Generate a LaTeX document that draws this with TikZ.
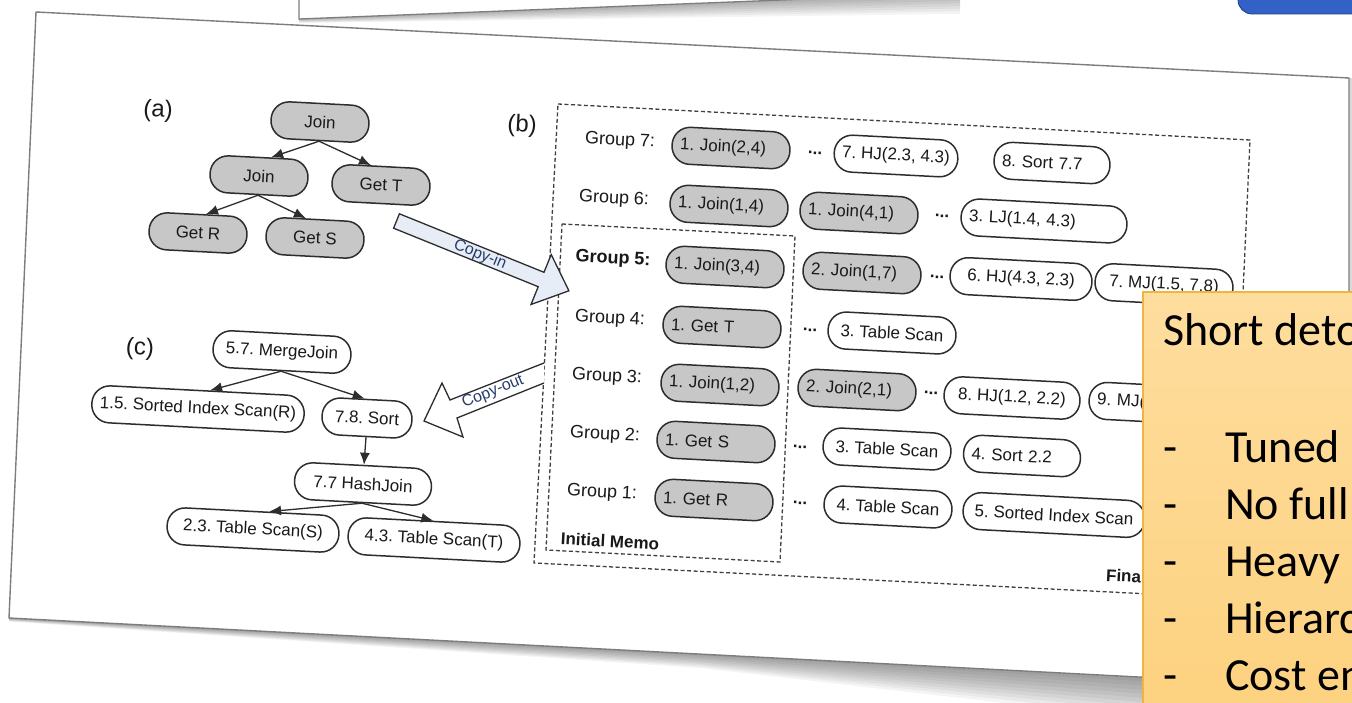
\documentclass[tikz,border=0pt]{standalone}
\usepackage{fontspec}
\setmainfont{Liberation Sans}
\newfontfamily\cbfont{Carlito}
\usetikzlibrary{arrows.meta,calc}
\definecolor{gfill}{RGB}{199,199,199}
\definecolor{nborder}{RGB}{45,45,45}
\definecolor{txt}{RGB}{25,25,25}
\definecolor{arrowfill}{RGB}{230,237,247}
\definecolor{cpytext}{RGB}{40,60,105}
\definecolor{yel1}{RGB}{254,221,158}
\definecolor{yel2}{RGB}{253,210,128}
\definecolor{yelborder}{RGB}{240,180,70}
\definecolor{blue1}{RGB}{50,98,198}
\definecolor{blue2}{RGB}{30,60,130}
\definecolor{paperedge}{RGB}{125,125,125}
\frenchspacing
\begin{document}
\begin{tikzpicture}[x=1pt,y=-1pt,
  pnode/.style={draw=nborder, line width=1.5pt, rounded corners=18pt, minimum height=37pt, inner xsep=8pt, inner ysep=0pt, rotate=-3, font=\fontsize{17}{20}\selectfont, text=txt},
  gnode/.style={pnode, fill=gfill},
  wnode/.style={pnode, fill=white},
  lt/.style={text width=#1, align=left},
  mw/.style={minimum width=#1},
  grp/.style={rotate=-3, font=\fontsize{18}{21}\selectfont, text=txt, inner sep=0pt},
  dotsn/.style={rotate=-3, font=\fontsize{17}{20}\selectfont\bfseries, text=txt, inner sep=0pt},
  lab/.style={rotate=-3, font=\fontsize{24}{28}\selectfont, text=txt, inner sep=0pt},
  tarr/.style={draw=nborder, line width=1.3pt, -{Latex[length=12pt,width=10pt]}},
  memo/.style={draw=black!75, line width=1.3pt, dash pattern=on 4pt off 2.5pt},
  ybul/.style={font=\cbfont\fontsize{46}{55}\selectfont, anchor=base west, inner sep=0pt, text=black},
  cpy/.style={font=\fontsize{16}{19}\selectfont, text=cpytext, inner sep=0pt},
]
\useasboundingbox (0,0) rectangle (1352,703);
\clip (0,0) rectangle (1352,703);
\fill[white] (0,0) rectangle (1352,703);

% previous slide paper at the top
\foreach \k in {1,...,8}{
  \fill[black,opacity=0.045] (299,19) -- (960,-7) -- (960,{-7+2.6*\k}) -- (299,{19+0.5*\k}) -- cycle;
}
\fill[white] (299,-10) -- (299,19) -- (960,-7) -- (960,-10) -- cycle;
\draw[paperedge, line width=1.3pt] (299,-10) -- (299,19) -- (960,-7);

% blue shape top right
\draw[fill=blue1, draw=blue2, line width=0.8pt, rounded corners=14pt] (1238,-30) rectangle (1390,14);

% main paper shadow
\foreach \k in {1,...,10}{
  \fill[black,opacity=0.045] (9,618) -- (1349,688) -- (1352,688) -- (1352,{688+5.5*\k}) -- (700,{654+1.4*\k}) -- (9,{618+0.35*\k}) -- cycle;
}
\fill[black,opacity=0.15] (1349,78) rectangle (1352,700);
% main paper
\fill[white] (36,12) -- (1349,78) -- (1349,688) -- (9,618) -- cycle;
\draw[paperedge, line width=1.4pt] (1349,688) -- (9,618) -- (36,12) -- (1349,78) -- (1349,688);

% memo boxes
\draw[memo] (558,104) -- (1250,140) -- (1229,598) -- (534,563) -- cycle;
\draw[memo] (562,224) -- (795,236) -- (780,562) -- (546,550) -- cycle;

% labels
\node[lab] (la) at (158,111) {(a)};
\node[lab] (lb) at (522,126) {(b)};
\node[lab] (lc) at (140,349) {(c)};

% tree (a)
\node[gnode, mw=98pt] (ja) at (320,122) {Join};
\node[gnode, mw=98pt] (jb) at (259,176) {Join};
\node[gnode, mw=98pt] (gt) at (381,185) {Get T};
\node[gnode, mw=98pt] (gr) at (198,233) {Get R};
\node[gnode, mw=98pt] (gs) at (315,238) {Get S};
\draw[tarr] (ja.south) -- (jb.60);
\draw[tarr] (ja.south) -- (gt.120);
\draw[tarr] (jb.south) -- (gr.70);
\draw[tarr] (jb.south) -- (gs.118);

% tree (c)
\node[wnode, mw=138pt] (mj) at (282,352) {5.7. MergeJoin};
\node[wnode, mw=211pt] (si) at (198,409) {1.5. Sorted Index Scan(R)};
\node[wnode, mw=90pt] (so) at (367,418) {7.8. Sort};
\node[wnode, mw=137pt] (hj) at (363,484) {7.7 HashJoin};
\node[wnode, mw=172pt] (ts) at (253,530) {2.3. Table Scan(S)};
\node[wnode, mw=172pt] (tt) at (434,540) {4.3. Table Scan(T)};
\draw[tarr] (mj.south) -- (si.60);
\draw[tarr] (mj.south) -- (so.100);
\draw[tarr] (so.south) -- (hj.north);
\draw[tarr] (hj.south) -- (ts.52);
\draw[tarr] (hj.south) -- (tt.95);

% memo groups
\node[grp] (g7) at (620,141) {Group 7:};
\node[gnode, lt=102pt] (n71) at (731,148) {1. Join(2,4)};
\node[dotsn] (d7) at (815,153) {...};
\node[wnode, mw=122pt] (n72) at (896,156) {7. HJ(2.3, 4.3)};
\node[wnode, lt=100pt] (n73) at (1052,163) {8. Sort 7.7};

\node[grp] (g6) at (614,199) {Group 6:};
\node[gnode, lt=102pt] (n61) at (729,206) {1. Join(1,4)};
\node[gnode, lt=102pt] (n62) at (859,213) {1. Join(4,1)};
\node[dotsn] (d6) at (942,216) {...};
\node[wnode, lt=150pt] (n63) at (1044,221) {3. LJ(1.4, 4.3)};

\node[grp, font=\fontsize{18}{21}\selectfont\bfseries] (g5) at (613,259) {Group 5:};
\node[gnode, lt=102pt] (n51) at (725,267) {1. Join(3,4)};
\node[gnode, lt=102pt] (n52) at (862,273) {2. Join(1,7)};
\node[dotsn] (d5) at (937,277) {...};
\node[wnode, mw=142pt] (n53) at (1021,279) {6. HJ(4.3, 2.3)};
\node[wnode, mw=138pt] (n54) at (1164,285) {7. MJ(1.5, 7.8)};

\node[grp] (g4) at (610,319) {Group 4:};
\node[gnode, lt=102pt] (n41) at (722,327) {1. Get T};
\node[dotsn] (d4) at (810,330) {...};
\node[wnode, mw=128pt] (n42) at (892,333) {3. Table Scan};

\node[grp] (g3) at (607,377) {Group 3:};
\node[gnode, lt=102pt] (n31) at (720,385) {1. Join(1,2)};
\node[gnode, lt=102pt] (n32) at (857,390) {2. Join(2,1)};
\node[dotsn] (d3) at (931,393) {...};
\node[wnode, mw=136pt] (n33) at (1012,398) {8. HJ(1.2, 2.2)};
\node[wnode, lt=134pt] (n34) at (1164,404) {9. MJ(};

\node[grp] (g2) at (605,435) {Group 2:};
\node[gnode, lt=102pt] (n21) at (716,442) {1. Get S};
\node[dotsn] (d2) at (800,447) {...};
\node[wnode, mw=128pt] (n22) at (887,449) {3. Table Scan};
\node[wnode, lt=101pt] (n23) at (1022,456) {4. Sort 2.2};

\node[grp] (g1) at (602,493) {Group 1:};
\node[gnode, lt=102pt] (n11) at (714,500) {1. Get R};
\node[dotsn] (d1) at (800,503) {...};
\node[wnode, mw=128pt] (n12) at (888,507) {4. Table Scan};
\node[wnode, mw=182pt] (n13) at (1054,515) {5. Sorted Index Scan};

\node[grp, font=\fontsize{17}{20}\selectfont\bfseries] (im) at (610,541) {Initial Memo};
\node[grp, font=\fontsize{17}{20}\selectfont\bfseries, anchor=west] (fm) at (1106,575) {Final Memo};

% copy-in block arrow
\draw[fill=arrowfill, draw=nborder, line width=1.3pt, line join=miter]
  (399.4,213.8) -- (544,272.3) -- (551.2,254.5) -- (568.9,290.8) -- (531,304.5) -- (538.2,286.7) -- (393.6,228.2) -- cycle;
\node[cpy, rotate=-22] (ci) at (480,255) {Copy-in};

% copy-out block arrow
\fill[white] (544,363) -- (450,400) -- (442,383) -- (424,421) -- (463,437) -- (457,418) -- (544,383) -- cycle;
\draw[draw=nborder, line width=1.3pt, line join=miter]
  (544,363) -- (450,400) -- (442,383) -- (424,421) -- (463,437) -- (457,418) -- (544,383);
\node[cpy, rotate=22] (co) at (493,392) {Copy-out};

% yellow overlay
\shade[top color=yel1, bottom color=yel2] (1143,292) rectangle (1360,710);
\draw[yelborder, line width=1.2pt] (1360,292) -- (1143,292) -- (1143,710);
\node[ybul] (y0) at (1163,345) {Short deto};
\node[ybul] (b1) at (1163,462) {-};
\node[ybul] (t1) at (1225,462) {Tuned};
\node[ybul] (b2) at (1163,519) {-};
\node[ybul] (t2) at (1225,519) {No full};
\node[ybul] (b3) at (1163,576) {-};
\node[ybul] (t3) at (1225,576) {Heavy};
\node[ybul] (b4) at (1163,633) {-};
\node[ybul] (t4) at (1225,633) {Hierarc};
\node[ybul] (b5) at (1163,690) {-};
\node[ybul] (t5) at (1225,690) {Cost en};
\end{tikzpicture}
\end{document}
